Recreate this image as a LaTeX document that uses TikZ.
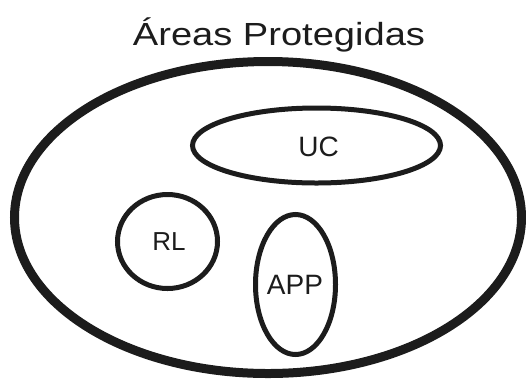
\documentclass[tikz,border=0pt]{standalone}
\usepackage{fontspec}
\setmainfont{Liberation Sans}
\definecolor{ink}{HTML}{1C1C1C}
\tikzset{
  outerset/.style={draw=ink, line width=9pt},
  innerset/.style={draw=ink, line width=5pt},
  setlabel/.style={text=ink, font=\fontsize{#1}{#1}\selectfont, anchor=base, inner sep=0pt},
  setlabel/.default=27,
  titlelabel/.style={text=ink, font=\fontsize{32}{34}\selectfont, anchor=base, inner sep=0pt, xscale=1.19}
}
\begin{document}
\begin{tikzpicture}[x=1pt, y=1pt]
  \useasboundingbox (0,0) rectangle (526,-381);
  % outer set: protected areas
  \draw[outerset] (268,-217.5) ellipse [x radius=253.5, y radius=156];
  % inner sets
  \draw[innerset] (316.5,-145.5) ellipse [x radius=124, y radius=37.5];
  \draw[innerset] (167.5,-241.5) ellipse [x radius=50, y radius=47];
  \draw[innerset] (295.5,-284.5) ellipse [x radius=40, y radius=70];
  % labels
  \node[titlelabel] (title) at (279,-45) {Áreas Protegidas};
  \node[setlabel=28] (uc) at (318.5,-156) {UC};
  \node[setlabel=26] (rl) at (169,-250) {RL};
  \node[setlabel=28] (app) at (295,-294) {APP};
\end{tikzpicture}
\end{document}
